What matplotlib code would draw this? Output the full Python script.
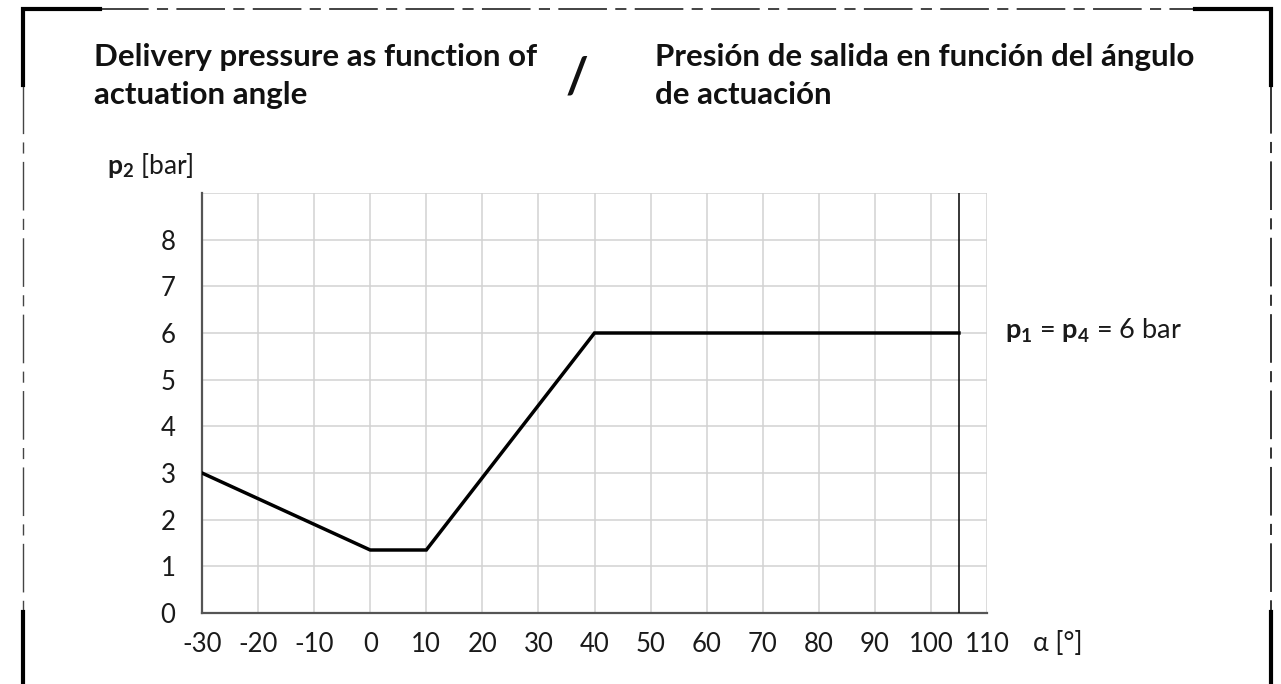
import matplotlib
matplotlib.use("Agg")
import matplotlib.pyplot as plt
from matplotlib.lines import Line2D

plt.rcParams['font.family'] = ['Lato', 'DejaVu Sans']
plt.rcParams['mathtext.fontset'] = 'custom'
plt.rcParams['mathtext.rm'] = 'Lato'
plt.rcParams['mathtext.bf'] = 'Lato:bold'
plt.rcParams['mathtext.it'] = 'Lato:italic'
plt.rcParams['axes.unicode_minus'] = False
plt.rcParams['lines.scale_dashes'] = False

# Data
angle = [-30, 0, 10, 40, 105]
pressure = [3, 1.35, 1.35, 6, 6]
end_angle = 105
x_ticks = [-30, -20, -10, 0, 10, 20, 30, 40, 50, 60, 70, 80, 90, 100, 110]
y_ticks = [0, 1, 2, 3, 4, 5, 6, 7, 8]
y_grid = [0, 1, 2, 3, 4, 5, 6, 7, 8, 9]

W, H = 1281, 684
fig = plt.figure(figsize=(W / 100, H / 100), dpi=100)

def fx(px):
    return px / W

def fy(py):
    return 1 - py / H

ax = fig.add_axes([fx(202), fy(613), fx(987) - fx(202), fy(193) - fy(613)])
ax.plot(angle, pressure, color='black', lw=2.5, solid_joinstyle='miter', zorder=3)
ax.axvline(end_angle, color='black', lw=1.1, zorder=3)
ax.set_xlim(-30, 110)
ax.set_ylim(0, 9)
ax.set_xticks(x_ticks)
ax.set_yticks(y_ticks)
ax.set_yticks(y_grid, minor=True)
ax.grid(True, which='both', color='#d2d2d2', lw=1.1, zorder=0)
ax.set_axisbelow(True)
for s in ['top', 'right']:
    ax.spines[s].set_visible(False)
for s in ['left', 'bottom']:
    ax.spines[s].set_color('#555555')
    ax.spines[s].set_linewidth(1.6)
ax.tick_params(which='both', length=0, labelsize=18.5, colors='#1a1a1a')
ax.tick_params(axis='x', pad=14)
ax.tick_params(axis='y', pad=19)

# Titles
title_kw = dict(fontsize=22.5, fontweight='bold', va='baseline', ha='left', color='#111111')
fig.text(fx(94), fy(66), "Delivery pressure as function of", **title_kw)
fig.text(fx(94), fy(104), "actuation angle", **title_kw)
fig.text(fx(655), fy(66), "Presión de salida en función del ángulo", **title_kw)
fig.text(fx(655), fy(104), "de actuación", **title_kw)
fig.text(fx(577), fy(78), "/", fontsize=35, fontweight='bold', va='center', ha='center', color='#111111')

fig.text(fx(107), fy(174), r"$\mathbf{p}_{\mathbf{2}}$ [bar]", fontsize=19,
         va='baseline', ha='left', color='#1a1a1a')
fig.text(fx(1005), fy(339), r"$\mathbf{p}_{\mathbf{1}}$ = $\mathbf{p}_{\mathbf{4}}$ = 6 bar",
         fontsize=19.5, va='baseline', ha='left', color='#1a1a1a')
fig.text(fx(1033), fy(651), "α [°]", fontsize=19, va='baseline', ha='left', color='#1a1a1a')

# Frame
xl, xr, yt = fx(23), fx(1271), fy(9)
dash = (0, (35, 6, 8, 6))
fig.add_artist(Line2D([fx(100), fx(1195)], [yt, yt], transform=fig.transFigure, color='#222222', lw=1.2, linestyle=dash))
fig.add_artist(Line2D([xl, xl], [fy(85), fy(612)], transform=fig.transFigure, color='#444444', lw=1.0, linestyle=dash))
fig.add_artist(Line2D([xr, xr], [fy(85), fy(612)], transform=fig.transFigure, color='#111111', lw=1.2, linestyle=dash))
# thick corners
fig.add_artist(Line2D([fx(100), xl, xl], [yt, yt, fy(85)], transform=fig.transFigure, color='black', lw=3.0, solid_joinstyle='miter'))
fig.add_artist(Line2D([fx(1195), xr, xr], [yt, yt, fy(85)], transform=fig.transFigure, color='black', lw=3.0, solid_joinstyle='miter'))
fig.add_artist(Line2D([xl, xl], [fy(612), fy(690)], transform=fig.transFigure, color='black', lw=3.0))
fig.add_artist(Line2D([xr, xr], [fy(612), fy(690)], transform=fig.transFigure, color='black', lw=3.0))

fig.savefig("out.png", dpi=100, facecolor='white')
